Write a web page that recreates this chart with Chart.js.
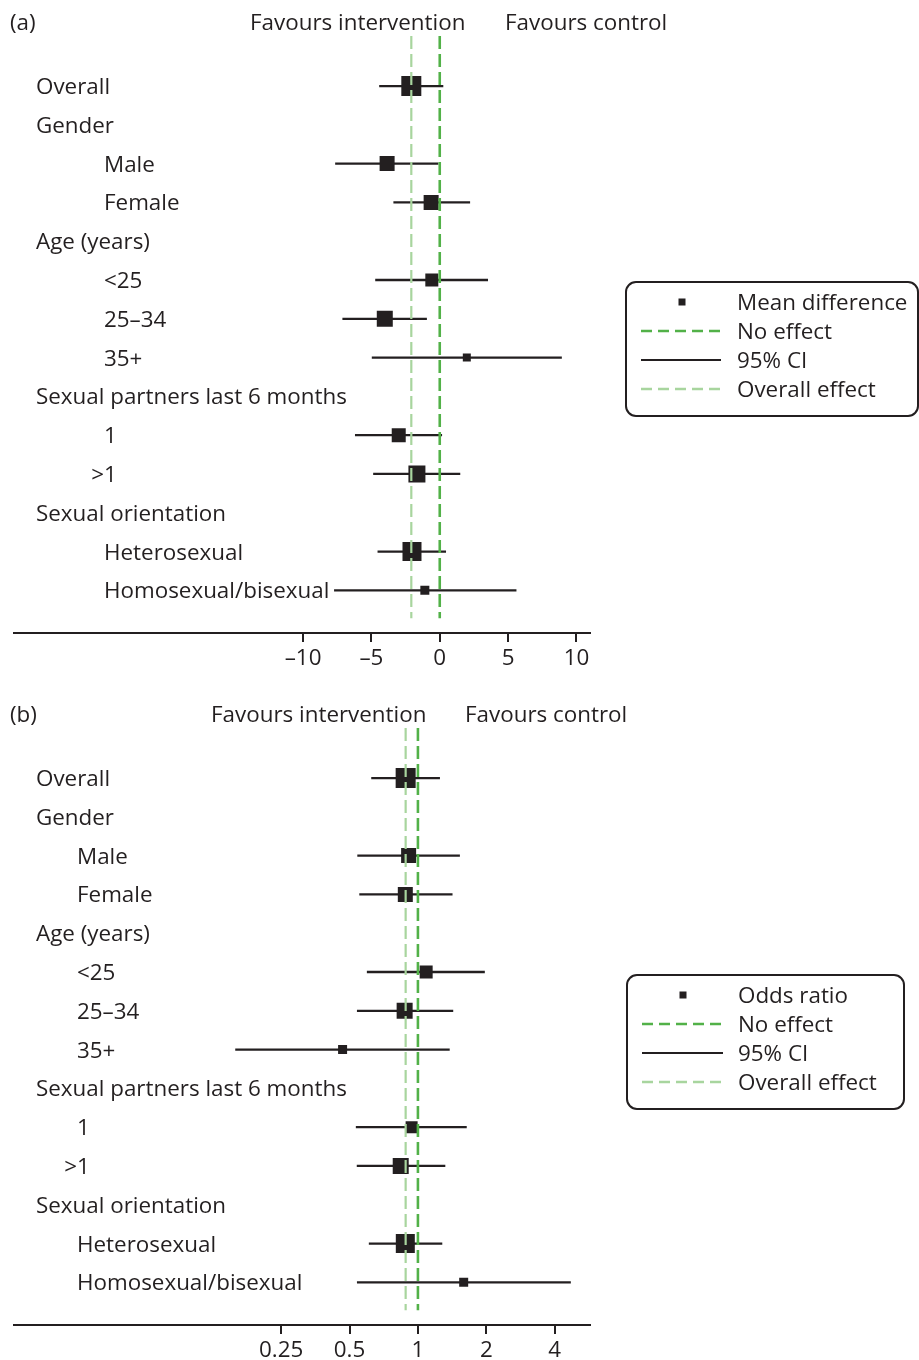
<!DOCTYPE html>
<html>
<head>
<meta charset="utf-8">
<script src="https://cdn.jsdelivr.net/npm/chart.js@4.4.1/dist/chart.umd.min.js"></script>
<style>
  html, body { margin: 0; padding: 0; background: #fff; }
  body { width: 919px; height: 1360px; position: relative; overflow: hidden; }
  .panel { position: absolute; left: 0; width: 919px; height: 680px; }
</style>
</head>
<body>
<div class="panel" style="top:0"><canvas id="chartA" width="919" height="680"></canvas></div>
<div class="panel" style="top:692px"><canvas id="chartB" width="919" height="680"></canvas></div>
<script>
// Subgroup rows, top to bottom
const rowLabels = ['Overall', 'Gender', 'Male', 'Female', 'Age (years)', '<25', '25–34', '35+',
  'Sexual partners last 6 months', '1', '>1', 'Sexual orientation', 'Heterosexual', 'Homosexual/bisexual'];
const rowIsSubgroup = [false, false, true, true, false, true, true, true, false, true, true, false, true, true];

// (a) Mean difference with 95% CI
const meanDiff = [-2.08, null, -3.85, -0.63, null, -0.58, -4.02, 1.98, null, -3.00, -1.67, null, -2.03, -1.09];
const mdLower  = [-4.43, null, -7.65, -3.39, null, -4.72, -7.12, -4.97, null, -6.20, -4.87, null, -4.55, -7.73];
const mdUpper  = [0.26, null, -0.10, 2.22, null, 3.53, -0.94, 8.93, null, 0.17, 1.50, null, 0.46, 5.61];
const mdWeight = [20, null, 15, 15, null, 13, 16, 8, null, 14, 17, null, 19, 9];
const mdNoEffect = 0;
const mdOverall = -2.08;
const mdTicks = [-10, -5, 0, 5, 10];
const mdTickLabels = ['\u201310', '\u20135', '0', '5', '10'];

// (b) Odds ratio with 95% CI
const oddsRatio = [0.883, null, 0.91, 0.88, null, 1.087, 0.874, 0.466, null, 0.938, 0.84, null, 0.88, 1.59];
const orLower   = [0.623, null, 0.541, 0.552, null, 0.596, 0.539, 0.157, null, 0.533, 0.538, null, 0.608, 0.539];
const orUpper   = [1.25, null, 1.53, 1.42, null, 1.97, 1.43, 1.38, null, 1.64, 1.32, null, 1.28, 4.71];
const orWeight  = [20, null, 15, 15, null, 13, 16, 9, null, 12, 16, null, 19, 9];
const orNoEffect = 1;
const orOverall = 0.883;
const orTicks = [0.25, 0.5, 1, 2, 4];
const orTickLabels = ['0.25', '0.5', '1', '2', '4'];

const INK = '#231f20';
const GREEN = '#52b148';
const LIGHT_GREEN = '#a8d59e';
const FONT = '"Open Sans", "Noto Sans", sans-serif';
const FONT_SIZE = 22.4;
const SQUARE_PX_PER_WEIGHT = 1;   // side of a square, in px, per unit of weight
const ROW_TOP = -1.29, ROW_BOTTOM = 14.1, REF_LINE_END = 13.72;

Chart.defaults.font.family = FONT;
Chart.defaults.font.size = FONT_SIZE;
Chart.defaults.color = INK;

function buildDatasets(est, lo, hi, wt, noEffect, overall) {
  const sets = [];
  sets.push({
    label: 'Overall effect', data: [{ x: overall, y: ROW_TOP }, { x: overall, y: REF_LINE_END }],
    showLine: true, borderColor: LIGHT_GREEN, borderWidth: 2.2, borderDash: [13, 5],
    pointRadius: 0, order: 0
  });
  sets.push({
    label: 'No effect', data: [{ x: noEffect, y: ROW_TOP }, { x: noEffect, y: REF_LINE_END }],
    showLine: true, borderColor: GREEN, borderWidth: 2.6, borderDash: [13, 5],
    pointRadius: 0, order: 1
  });
  sets.push({
    label: 'Estimate',
    data: est.map((v, i) => v == null ? null : { x: v, y: i, w: wt[i] }).filter(Boolean),
    pointStyle: 'rect',
    pointRadius: c => (c.raw ? c.raw.w * SQUARE_PX_PER_WEIGHT / Math.SQRT2 : 0),
    backgroundColor: INK, borderColor: INK, borderWidth: 0, order: 2
  });
  lo.forEach((l, i) => {
    if (l == null) return;
    sets.push({
      label: '95% CI ' + rowLabels[i], data: [{ x: l, y: i }, { x: hi[i], y: i }],
      showLine: true, borderColor: INK, borderWidth: 2.3, pointRadius: 0, order: 3
    });
  });
  return sets;
}

// Row labels, panel heading and the legend box
const panelText = {
  id: 'panelText',
  afterDraw(chart, args, o) {
    const ctx = chart.ctx;
    const ys = chart.scales.y;
    ctx.save();
    ctx.fillStyle = INK;
    ctx.font = FONT_SIZE + 'px ' + FONT;
    ctx.textBaseline = 'alphabetic';
    ctx.textAlign = 'left';
    ctx.fillText(o.letter, o.letterX, o.headBaseline);
    ctx.fillText('Favours intervention', o.leftNoteX, o.headBaseline);
    ctx.fillText('Favours control', o.rightNoteX, o.headBaseline);

    rowLabels.forEach((lab, i) => {
      const py = ys.getPixelForValue(i) + 8;
      let px = rowIsSubgroup[i] ? o.subIndent : o.headIndent;
      if (lab === '>1') px = o.subIndent + ctx.measureText('1').width - ctx.measureText('>1').width;
      ctx.fillText(lab, px, py);
    });

    // legend
    const L = o.legend;
    ctx.beginPath();
    ctx.lineWidth = 2;
    ctx.strokeStyle = INK;
    ctx.roundRect(L.x, L.y, L.w, L.h, 10);
    ctx.stroke();
    const rows = [L.y + 20, L.y + 49, L.y + 78, L.y + 107];
    ctx.fillRect(L.markerX - 3.5, rows[0] - 3.5, 7, 7);
    const sample = (y, color, width, dash) => {
      ctx.beginPath();
      ctx.setLineDash(dash);
      ctx.strokeStyle = color;
      ctx.lineWidth = width;
      ctx.moveTo(L.sampleX0, y);
      ctx.lineTo(L.sampleX1, y);
      ctx.stroke();
    };
    sample(rows[1], GREEN, 2.4, [11, 6]);
    sample(rows[2], INK, 2.2, []);
    sample(rows[3], LIGHT_GREEN, 2.4, [11, 6]);
    ctx.setLineDash([]);
    [L.label, 'No effect', '95% CI', 'Overall effect'].forEach((t, k) => {
      ctx.fillText(t, L.textX, rows[k] + 8);
    });
    ctx.restore();
  }
};

function makeChart(id, est, lo, hi, wt, noEffect, overall, xScale, text) {
  return new Chart(document.getElementById(id), {
    type: 'scatter',
    data: { datasets: buildDatasets(est, lo, hi, wt, noEffect, overall) },
    options: {
      responsive: false,
      animation: false,
      events: [],
      layout: { padding: { left: 10, right: 329, top: 36, bottom: 0 } },
      plugins: { legend: { display: false }, tooltip: { enabled: false }, panelText: text },
      scales: {
        x: Object.assign({
          afterFit: s => { s.height = 47; },
          grid: { drawOnChartArea: false, drawTicks: true, tickLength: 9, color: INK, lineWidth: 2 },
          border: { display: true, color: INK, width: 2 }
        }, xScale),
        y: { type: 'linear', reverse: true, min: ROW_TOP, max: ROW_BOTTOM, display: false }
      }
    },
    plugins: [panelText]
  });
}

function draw() {
  makeChart('chartA', meanDiff, mdLower, mdUpper, mdWeight, mdNoEffect, mdOverall, {
    type: 'linear', min: -31.13, max: 10.99,
    afterBuildTicks: s => { s.ticks = mdTicks.map(v => ({ value: v })); },
    ticks: { color: INK, padding: 3, maxRotation: 0, autoSkip: false, callback: (v, i) => mdTickLabels[i] }
  }, {
    letter: '(a)', letterX: 10, headBaseline: 30, leftNoteX: 250, rightNoteX: 505,
    headIndent: 36, subIndent: 104,
    legend: { x: 626, y: 282, w: 292, h: 134, markerX: 682, sampleX0: 641, sampleX1: 721, textX: 737, label: 'Mean difference' }
  });

  makeChart('chartB', oddsRatio, orLower, orUpper, orWeight, orNoEffect, orOverall, {
    type: 'logarithmic', min: 0.0167, max: 5.72,
    afterBuildTicks: s => { s.ticks = orTicks.map(v => ({ value: v })); },
    ticks: { color: INK, padding: 3, maxRotation: 0, autoSkip: false, callback: (v, i) => orTickLabels[i] }
  }, {
    letter: '(b)', letterX: 10, headBaseline: 30, leftNoteX: 211, rightNoteX: 465,
    headIndent: 36, subIndent: 77,
    legend: { x: 627, y: 283, w: 277, h: 134, markerX: 683, sampleX0: 642, sampleX1: 723, textX: 738, label: 'Odds ratio' }
  });
}

if (document.fonts && document.fonts.load) {
  document.fonts.load(FONT_SIZE + 'px "Open Sans"').then(draw, draw);
} else {
  draw();
}
</script>
</body>
</html>
